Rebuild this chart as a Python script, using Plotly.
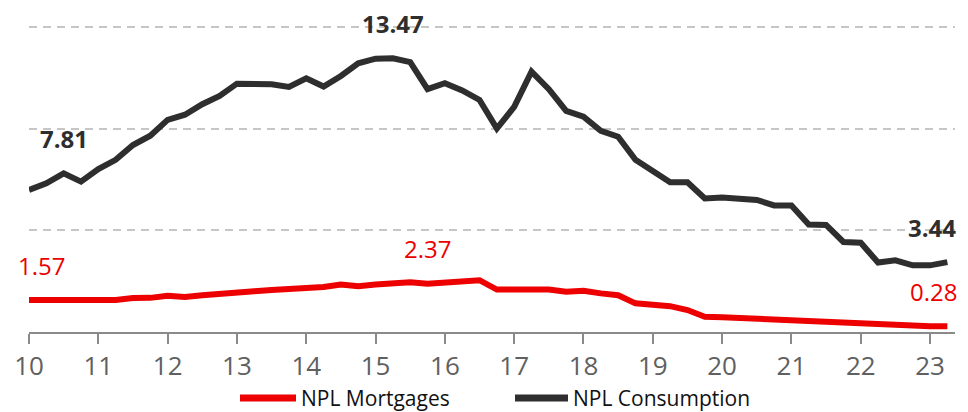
import plotly.graph_objects as go

# Quarterly NPL ratios (%), 2010Q1 .. 2023Q2
years = [2010 + q // 4 for q in range(54)]
quarters = [q % 4 + 1 for q in range(54)]
x_pos = [(y - 2000) + (qq - 1) / 4 for y, qq in zip(years, quarters)]

npl_mortgages = [
    1.57, 1.56, 1.54, 1.54, 1.55, 1.58, 1.67, 1.68, 1.78, 1.72,
    1.81, 1.90, 1.93, 2.01, 2.07, 2.11, 2.16, 2.21, 2.34, 2.25,
    2.34, 2.39, 2.45, 2.37, 2.44, 2.55, 2.55, 2.09, 2.09, 2.09,
    2.09, 1.98, 2.03, 1.90, 1.81, 1.41, 1.37, 1.27, 1.08, 0.75,
    0.73, 0.69, 0.65, 0.62, 0.59, 0.55, 0.54, 0.51, 0.46, 0.43,
    0.34, 0.29, 0.28, 0.28,
]
npl_consumption = [
    6.99, 7.32, 7.81, 7.40, 8.02, 8.47, 9.20, 9.66, 10.44, 10.69,
    11.21, 11.62, 12.22, 12.22, 12.19, 12.06, 12.48, 12.08, 12.60, 13.22,
    13.45, 13.47, 13.28, 11.95, 12.24, 11.89, 11.42, 10.01, 11.08, 12.81,
    11.95, 10.88, 10.59, 9.90, 9.61, 8.47, 7.89, 7.37, 7.37, 6.57,
    6.62, 6.59, 6.50, 6.23, 6.23, 5.29, 5.27, 4.43, 4.39, 3.42,
    3.53, 3.28, 3.28, 3.44,
]
series_names = ["NPL Mortgages", "NPL Consumption"]

tick_vals = list(range(10, 24))
tick_text = [str(v) for v in tick_vals]

RED = "#EC0000"
DARK = "#2e2e2e"
FONT = "Open Sans"
W, H = 968, 412
M_L, M_R, M_T, M_B = 29, 13, 17, 80
PLOT_W = W - M_L - M_R
PLOT_H = H - M_T - M_B

fig = go.Figure()
for name, vals, col in zip(series_names, [npl_mortgages, npl_consumption], [RED, DARK]):
    fig.add_trace(go.Scatter(
        x=x_pos, y=vals, mode="lines", name=name,
        line=dict(color=col, width=6),
    ))

# value call-outs: (series, index, colour, bold, xshift)
callouts = [
    (npl_consumption, 2, DARK, True, 0),
    (npl_consumption, 21, DARK, True, 0),
    (npl_consumption, 53, DARK, True, -15),
    (npl_mortgages, 0, RED, False, 12),
    (npl_mortgages, 23, RED, False, 0),
    (npl_mortgages, 53, RED, False, -14),
]
for series, i, col, bold, dx in callouts:
    txt = f"{series[i]:.2f}"
    if bold:
        txt = f"<b>{txt}</b>"
    fig.add_annotation(
        x=x_pos[i], y=series[i], text=txt, showarrow=False,
        xshift=dx, yshift=35,
        font=dict(family=FONT, size=24, color=col),
    )


def px_to_paper_x(px):
    return (px - M_L) / PLOT_W


def px_to_paper_y(py):
    return (H - M_B - py) / PLOT_H


# legend row below the axis: a line swatch followed by the series name
legend_items = [(240, 296, RED, series_names[0]), (515, 568, DARK, series_names[1])]
legend_y = px_to_paper_y(398)
for x0, x1, col, name in legend_items:
    fig.add_shape(
        type="line", xref="paper", yref="paper",
        x0=px_to_paper_x(x0), x1=px_to_paper_x(x1),
        y0=legend_y, y1=legend_y,
        line=dict(color=col, width=7),
    )
    fig.add_annotation(
        xref="paper", yref="paper",
        x=px_to_paper_x(x1 + 3), y=legend_y,
        xanchor="left", yanchor="middle", text=name, showarrow=False,
        font=dict(family=FONT, size=21, color="#111"),
    )

fig.update_layout(
    width=W, height=H,
    margin=dict(l=M_L, r=M_R, t=M_T, b=M_B, autoexpand=False),
    paper_bgcolor="white", plot_bgcolor="white",
    showlegend=False,
    font=dict(family=FONT),
)
fig.update_xaxes(
    range=[10, 23.36], tickvals=tick_vals, ticktext=tick_text,
    showgrid=False, zeroline=False,
    showline=True, linecolor="#8a8a8a", linewidth=2,
    ticks="outside", ticklen=10, tickwidth=2, tickcolor="#8a8a8a",
    tickfont=dict(family=FONT, size=26, color="#606060"),
)
fig.update_yaxes(
    range=[0, 15.5], dtick=5, showticklabels=False,
    showgrid=True, gridcolor="#c6c6c6", gridwidth=2, griddash="8px,6px",
    zeroline=False, showline=False,
)

fig.write_html("out.html")
